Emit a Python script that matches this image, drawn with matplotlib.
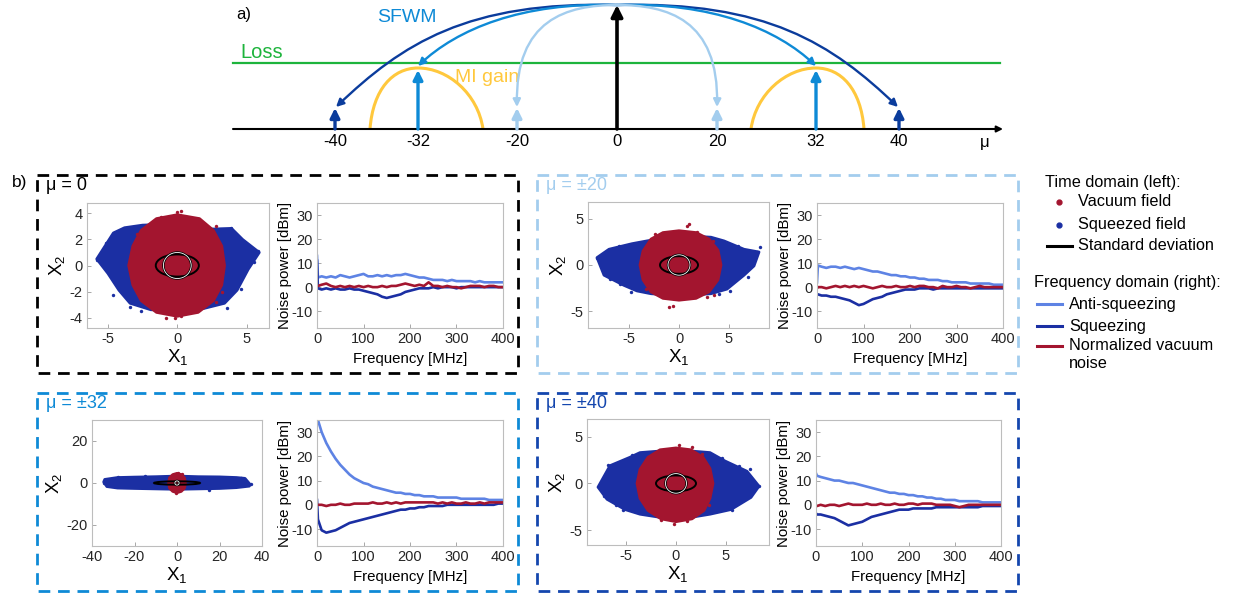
import numpy as np
import matplotlib
matplotlib.use('Agg')
import matplotlib.pyplot as plt
from matplotlib.patches import Ellipse, Polygon, FancyArrowPatch, Rectangle, PathPatch
from matplotlib.path import Path

plt.rcParams['font.family'] = ['Liberation Sans', 'DejaVu Sans']
plt.rcParams['mathtext.fontset'] = 'custom'
plt.rcParams['mathtext.rm'] = 'Liberation Sans'
plt.rcParams['axes.unicode_minus'] = False

# colours
C_VAC = '#A3152F'
C_SQ = '#1B2FA3'
C_ANTI = '#5E83E4'
C_M20 = '#A3CDEE'
C_M32 = '#0E8AD6'
C_M40 = '#0B3C9C'
C_BOX40 = '#1446AE'
C_LOSS = '#1DB43C'
C_MI = '#FFC83D'

# ---------------- a) mode diagram (schematic, not to scale) ----------------
mode_labels = ['-40', '-32', '-20', '0', '20', '32', '40']
mode_pos = [-282, -199, -100, 0, 100, 199, 282]     # offset from pump, px
mode_height = [21, 59, 21, 124, 21, 59, 21]
mode_colors = [C_M40, C_M32, C_M20, 'black', C_M20, C_M32, C_M40]

# MI gain dome around the -32 mode (two cubic segments, mirrored for +32)
mi_ctrl = [(-48, 0), (-45, 40), (-25, 61), (0, 61), (30, 61), (60, 35), (65, 0)]

# SFWM curves: cubic bezier control points (x offset, height)
sfwm_40 = [(0, 124), (-150, 128), (-215, 85), (-281, 22)]
sfwm_32 = [(0, 124), (-95, 127), (-160, 100), (-199, 63)]
sfwm_20 = [(0, 124), (-50, 124), (-102, 110), (-100, 22)]

loss_h = 66

# ---------------- b) time-domain clouds ----------------
# outlines of the point clouds (x, y)
blue0_x = [-5.8, -5.2, -4.6, -3.8, -2.5, 0, 2.5, 3.9, 4.7, 5.9, 5.1, 4.3, 3.4, 1.9, 0, -1.9, -3.4, -4.2, -5.0]
blue0_y = [0.5, 1.5, 2.5, 2.9, 3.1, 3.2, 2.8, 2.85, 2.0, 1.0, -0.3, -1.9, -2.9, -3.3, -3.4, -3.4, -2.9, -1.9, -0.6]
red0_x = [3.4, 3.2, 2.6, 1.6, 0, -1.5, -2.6, -3.2, -3.5, -3.2, -2.6, -1.5, 0, 1.5, 2.6, 3.2]
red0_y = [0, 1.5, 2.7, 3.6, 3.9, 3.6, 2.7, 1.5, 0, -1.5, -2.7, -3.6, -3.9, -3.6, -2.7, -1.5]

blue20_x = [-8.2, -7.0, -4.7, -3.2, 0, 3.2, 4.5, 6.5, 8.0, 7.5, 6.5, 4.8, 3.2, 0, -2.8, -4.2, -5.5, -7.5]
blue20_y = [0.8, 1.7, 2.3, 2.6, 3.2, 3.0, 2.6, 1.7, 1.4, -0.1, -1.1, -2.6, -3.1, -3.3, -3.1, -2.8, -2.2, -1.1]
red20_x = [4.2, 3.9, 3.0, 1.7, 0, -1.6, -2.8, -3.6, -3.9, -3.6, -2.8, -1.6, 0, 1.7, 3.0, 3.9]
red20_y = [0, 1.6, 2.8, 3.5, 3.7, 3.5, 2.8, 1.5, 0, -1.6, -2.9, -3.6, -3.8, -3.6, -2.9, -1.6]

blue32_x = [-34.5, -34, -28, -20, -10, 0, 10, 20, 28, 32, 34.5, 34, 28, 20, 10, 0, -10, -20, -28, -33]
blue32_y = [0.5, 1.7, 2.6, 2.8, 3.0, 3.3, 3.0, 2.9, 2.6, 2.2, -0.8, -1.5, -2.2, -2.6, -2.8, -3.0, -2.8, -2.6, -2.4, -1.7]
red32_x = [4, 3.5, 2, 0, -2, -3.5, -4, -3.5, -2, 0, 2, 3.5]
red32_y = [0, 2.5, 4, 4.6, 4, 2.5, 0, -2.5, -4, -4.6, -4, -2.5]

blue40_x = [-7.8, -6.6, -4.6, -3.6, 0, 3.4, 4.9, 7.1, 8.3, 7.5, 5.5, 3.4, 0, -3.6, -5.1, -6.9]
blue40_y = [-0.4, 1.9, 2.8, 3.3, 3.6, 3.3, 2.4, 1.3, -0.3, -1.5, -2.8, -3.3, -3.9, -3.3, -2.8, -1.7]
red40_x = [3.7, 3.4, 2.7, 1.5, 0, -1.6, -2.8, -3.6, -3.9, -3.6, -2.8, -1.5, 0, 1.6, 2.8, 3.4]
red40_y = [0, 1.6, 2.8, 3.6, 3.8, 3.6, 2.8, 1.5, 0, -1.6, -2.9, -3.8, -4.1, -3.8, -2.9, -1.6]

# stray points outside the dense clouds
blue0_out = [(-5.8, 0.4), (-5.5, 0.45), (5.8, 1.1), (5.5, 0.3), (4.9, 1.6), (-4.6, -2.3), (3.6, -3.3),
             (-3.4, -3.2), (4.6, -1.8), (-4.5, 2.5), (3.9, 2.9), (-5.1, 1.7), (4.3, 2.3), (-2.6, -3.5)]
red0_out = [(0, 4.1), (0.3, 4.2), (-0.2, -4.0), (0.3, -3.9), (2.8, 3.0), (1.5, 3.6), (-1.5, 3.5),
            (2.8, -2.8), (-1.2, 3.7), (-2.9, 2.4), (3.2, -2.0), (-0.8, -4.0)]
blue20_out = [(-8.2, 0.8), (-7.6, 0.4), (8.1, 1.9), (7.8, 1.4), (-6.9, -1.5), (5.1, -2.8), (-5.9, -2.1),
              (6.9, -1.3), (-4.8, -2.9), (-6.0, 2.1), (5.9, 2.1), (4.0, -3.1)]
red20_out = [(1.0, 4.4), (0.8, 4.2), (-1.0, -4.5), (-0.6, -4.4), (2.8, -3.5), (3.5, -3.2), (-2.4, 3.4),
             (1.8, 3.6), (-3.3, -2.6), (3.4, 2.6)]
blue32_out = [(-34.5, 0.0), (34.8, -0.5), (-28, 2.9), (30, 2.6), (-15, 3.4), (15, -3.2)]
red32_out = [(0.5, 4.8), (-0.5, -4.9), (2.5, 4.2)]
blue40_out = [(-7.6, -0.4), (8.3, -0.3), (7.3, -1.3), (-6.8, 2.0), (-5.3, -2.9), (7.4, 1.5), (5.6, -2.9),
              (-7.2, -1.4), (-4.4, 3.0), (4.6, 2.7), (6.3, 1.9), (-6.0, -2.3)]
red40_out = [(1.6, 3.9), (0.3, 4.1), (-0.2, -4.4), (1.1, -4.0), (-1.5, -3.9), (2.6, 3.1), (-2.6, -3.0),
             (-3.0, 2.5), (3.3, -2.3)]

# standard deviation ellipse (a, b) and vacuum circle radius
std_sq = [(1.55, 0.85), (1.9, 0.95), (10.8, 0.8), (2.0, 0.85)]
std_vac = [1.0, 1.1, 1.0, 1.05]

# ---------------- b) frequency-domain spectra ----------------
freq = [0, 2] + list(range(10, 401, 10))

anti0 = [13, 4, 4.5, 4, 4.5, 4, 5, 4.5, 4, 4.5, 5, 5.5, 4.5, 4.5, 5, 4.5, 5, 4.5, 5, 5, 5.5, 5, 4.5, 4,
         4, 3.5, 3, 3, 3, 2.5, 3, 2.5, 2.5, 2.5, 2.5, 2, 2.5, 2, 2, 2, 2, 2]
sq0 = [11, -0.5, -1, -0.5, -1, -0.5, -1, -1, -0.5, -1, -1, -1.5, -2, -2.5, -3, -4, -4.5, -4, -3.5, -3, -2,
       -1.5, -1, -0.5, -0.5, -0.5, 0, -0.5, 0, 0, 0, -0.5, 0, 0, 0, 0, 0, 0, 0, 0, 0, 0]
vac0 = [0.5, 0.5, 1, 1.5, 0.5, 0, 0.5, 0, 0.5, 0, 0.5, 0, 0.5, 0, 0, 0.5, 0, 0.5, 0.5, 1, 1.5, 1, 0.5, 1,
        0.5, 2, 0.5, 0.5, 0, 0.5, 0, 0, -0.5, 0, 0.5, 0.5, 0.5, 0, 0.5, 0.5, 0, 0]

anti20 = [2, 9, 8.5, 8, 8.5, 8.5, 8, 8.5, 8, 7.5, 8, 7.5, 7, 6.5, 6.5, 6, 5.5, 5, 5, 4.5, 4.5, 4, 4, 3.5,
          3.5, 3, 3, 3, 2.5, 2.5, 2, 2, 2, 2, 1.5, 1.5, 1.5, 1.5, 1.5, 1, 1, 1]
sq20 = [-3, -3, -3.5, -3.5, -4, -4, -4.5, -5, -5.5, -6.5, -7.5, -7, -6, -5, -4.5, -4, -3, -2.5, -2, -1.5,
        -1, -1, -1, -0.5, -0.5, -0.5, -1, -0.5, -0.5, -0.5, -0.5, -0.5, -0.5, -0.5, -0.5, -0.5, -0.5,
        -0.5, -0.5, -0.5, -0.5, -0.5]
vac20 = [-0.5, 0, 0, -0.5, 0, 0.5, 0, 0.5, 0, 0.5, 0, 0.5, 0, -0.5, 0, 0.5, 0, 0, 0.5, 0, 0, 0.5, 0, 0.5,
         0.5, 0, 0, -0.5, 0.5, 0, 0, 0.5, 0, 0, -0.5, 0, 0.5, 0, 0, 0, 0, 0]

anti32 = [38, 35, 30, 25.5, 22, 19, 16.5, 14.5, 12.5, 11, 10, 9, 8.5, 7.5, 7, 6.5, 6, 5.5, 5, 5, 4.5, 4.5,
          4, 4, 3.5, 3.5, 3.5, 3, 3, 3, 3, 3, 2.5, 2.5, 2.5, 2.5, 2.5, 2.5, 2, 2, 2, 2]
sq32 = [2, -6, -10.5, -11.5, -11, -10.5, -9.5, -8.5, -7.5, -7, -6.5, -6, -5.5, -5, -4.5, -4, -3.5, -3,
        -2.5, -2, -2, -1.5, -1.5, -1, -1, -0.5, -0.5, -0.5, -0.5, 0, 0, 0, 0, 0, 0, 0, 0, 0, 0, 0, 0.5, 0.5]
vac32 = [0, 0, 0, -0.5, 0, 0, 0.5, 0, 0, 0.5, 0.5, 0.5, 0.5, 1, 0.5, 0.5, 1, 0.5, 1, 0.5, 1, 1, 1, 1,
         1, 1, 1, 0.5, 1, 0.5, 1, 0.5, 0.5, 1, 0.5, 0.5, 1, 0.5, 1, 1, 1, 1]

anti40 = [13, 12, 11.5, 11, 10.5, 10, 10, 9.5, 9, 9, 8.5, 8, 7.5, 7, 6.5, 6, 5.5, 5, 5, 4.5, 4.5, 4, 4,
          3.5, 3.5, 3, 3, 2.5, 2.5, 2, 2, 2, 1.5, 1.5, 1.5, 1.5, 1.5, 1, 1, 1, 1, 1]
sq40 = [-3.5, -4, -4, -4.5, -5, -5.5, -6.5, -7.5, -8.5, -8, -7.5, -7, -6, -5, -4.5, -4, -3.5, -3, -2.5,
        -2, -2, -2, -1.5, -1.5, -1.5, -1.5, -1.5, -1, -1, -1, -1, -1, -1, -1, -1, -1, -1, -0.5, -0.5,
        -0.5, -0.5, -0.5]
vac40 = [-0.5, -0.5, 0, -0.5, 0, 0, -0.5, 0, 0.5, 0, 0, 0, 0.5, 0, 0, 0.5, 0, 0, 0.5, 0, 0, 0.5, 0.5, 0,
         0.5, 0.5, 0.5, 0, 0, 0, 0, -0.5, -1, -0.5, 0, 0, 0, 0, 0, 0, 0, 0]

W, H = 1236, 596
fig = plt.figure(figsize=(W / 100, H / 100), dpi=100)

# overlay axes in pixel coordinates for diagram, boxes and legend
ov = fig.add_axes([0, 0, 1, 1])
ov.set_xlim(0, W)
ov.set_ylim(H, 0)
ov.axis('off')

X0, Y0 = 617, 129


def px(dx, h):
    return (X0 + dx, Y0 - h)


# frequency axis
ov.annotate('', xy=(1003, Y0), xytext=(233, Y0),
            arrowprops=dict(arrowstyle='-|>', lw=1.5, color='black', mutation_scale=9,
                            shrinkA=0, shrinkB=0))
ov.text(985, 143, 'μ', fontsize=12, ha='center', va='center')
ov.text(236, 15, 'a)', fontsize=12, ha='left', va='center')

# loss line
ov.plot([233, 1000], [Y0 - loss_h] * 2, color=C_LOSS, lw=1.6)
ov.text(240, 52, 'Loss', fontsize=14.5, color=C_LOSS, ha='left', va='center')

# MI gain domes
codes = [Path.MOVETO] + [Path.CURVE4] * 6
for cx, sgn in [(mode_pos[1], 1), (mode_pos[5], -1)]:
    verts = [px(cx + sgn * d, h) for d, h in mi_ctrl]
    ov.add_patch(PathPatch(Path(verts, codes), fill=False, ec=C_MI, lw=2.2))
ov.text(455, 77, 'MI gain', fontsize=14, color=C_MI, ha='left', va='center')

# mode arrows
for lab, xp, hh, col in zip(mode_labels, mode_pos, mode_height, mode_colors):
    lw = 2.6 if col == 'black' else 2.4
    ms = 17 if col == 'black' else 14
    ov.annotate('', xy=px(xp, hh), xytext=px(xp, 0),
                arrowprops=dict(arrowstyle='-|>', lw=lw, color=col, mutation_scale=ms,
                                shrinkA=0, shrinkB=0))
    ov.text(X0 + xp, 142, lab, fontsize=12, ha='center', va='center')

# SFWM curves
for pts, col in [(sfwm_40, C_M40), (sfwm_32, C_M32), (sfwm_20, C_M20)]:
    for sgn in (1, -1):
        verts = [px(sgn * x, h) for x, h in pts]
        path = Path(verts, [Path.MOVETO, Path.CURVE4, Path.CURVE4, Path.CURVE4])
        ov.add_patch(FancyArrowPatch(path=path, arrowstyle='-|>', mutation_scale=11,
                                     lw=1.7, color=col, zorder=3))
ov.text(377, 17, 'SFWM', fontsize=14, color=C_M32, ha='left', va='center')

# dashed group boxes
boxes = [((37, 175), 'black', 'μ = 0'),
         ((537, 175), C_M20, 'μ = ±20'),
         ((37, 393), C_M32, 'μ = ±32'),
         ((537, 393), C_BOX40, 'μ = ±40')]
for (bx, by), col, lab in boxes:
    ov.add_patch(Rectangle((bx, by), 481, 198, fill=False, ec=col, lw=2.0,
                           ls=(0, (4.2, 2.8))))
    ov.text(bx + 9, by + 11, lab, fontsize=13, color=col, ha='left', va='center')
ov.text(12, 183, 'b)', fontsize=12.5, ha='left', va='center')

# legend
ov.text(1045, 182, 'Time domain (left):', fontsize=11.7, ha='left', va='center')
ov.plot([1059], [202], 'o', ms=3.5, color=C_VAC)
ov.text(1078, 202, 'Vacuum field', fontsize=11.7, ha='left', va='center')
ov.plot([1059], [225], 'o', ms=3.5, color=C_SQ)
ov.text(1078, 225, 'Squeezed field', fontsize=11.7, ha='left', va='center')
ov.plot([1047, 1072], [246, 246], color='black', lw=2.2)
ov.text(1078, 246, 'Standard deviation', fontsize=11.7, ha='left', va='center')
ov.text(1034, 283, 'Frequency domain (right):', fontsize=11.7, ha='left', va='center')
for yy, col, lab in [(304, C_ANTI, 'Anti-squeezing'), (326, C_SQ, 'Squeezing'),
                     (346, C_VAC, 'Normalized vacuum')]:
    ov.plot([1037, 1062], [yy, yy], color=col, lw=2.2)
    ov.text(1069, yy, lab, fontsize=11.7, ha='left', va='center')
ov.text(1069, 364, 'noise', fontsize=11.7, ha='left', va='center')


def rect(l, t, r, b):
    return [l / W, 1 - b / H, (r - l) / W, (b - t) / H]


def style(ax):
    for s in ax.spines.values():
        s.set_color('#BDBDBD')
        s.set_linewidth(0.8)
    ax.tick_params(direction='in', length=3, width=0.6, color='#9A9A9A',
                   labelcolor='#262626', labelsize=10.5, pad=3)


def cloud_axes(r, bx, by, rx, ry, bout, rout, k, xlim, ylim, xt, yt):
    ax = fig.add_axes(rect(*r))
    ax.add_patch(Polygon(list(zip(bx, by)), closed=True, fc=C_SQ, ec=C_SQ, lw=2.0, joinstyle='round'))
    ax.scatter([p[0] for p in bout], [p[1] for p in bout], s=6, color=C_SQ, lw=0)
    ax.add_patch(Polygon(list(zip(rx, ry)), closed=True, fc=C_VAC, ec=C_VAC, lw=2.0, joinstyle='round'))
    ax.scatter([p[0] for p in rout], [p[1] for p in rout], s=6, color=C_VAC, lw=0)
    a, b = std_sq[k]
    ax.add_patch(Ellipse((0, 0), 2 * a, 2 * b, fill=False, ec='black', lw=1.4))
    rv = std_vac[k]
    ax.add_patch(Ellipse((0, 0), 2 * rv, 2 * rv, fill=False, ec='black', lw=1.7))
    ax.add_patch(Ellipse((0, 0), 2 * rv, 2 * rv, fill=False, ec='white', lw=0.6))
    ax.set_xlim(*xlim)
    ax.set_ylim(*ylim)
    ax.set_xticks(xt)
    ax.set_yticks(yt)
    ax.set_xlabel(r'$\mathrm{X}_1$', fontsize=13.5, labelpad=1)
    ax.set_ylabel(r'$\mathrm{X}_2$', fontsize=13.5, labelpad=1)
    style(ax)
    return ax


def spec_axes(r, anti, sq, vac):
    ax = fig.add_axes(rect(*r))
    ax.plot(freq, anti, color=C_ANTI, lw=1.9)
    ax.plot(freq, sq, color=C_SQ, lw=1.9)
    ax.plot(freq, vac, color=C_VAC, lw=1.9)
    ax.set_xlim(0, 400)
    ax.set_ylim(-17, 35)
    ax.set_xticks([0, 100, 200, 300, 400])
    ax.set_yticks([-10, 0, 10, 20, 30])
    ax.set_xlabel('Frequency [MHz]', fontsize=10.8)
    ax.set_ylabel('Noise power [dBm]', fontsize=10.8, labelpad=0)
    style(ax)
    return ax


cloud_axes((87, 203, 269, 328), blue0_x, blue0_y, red0_x, red0_y, blue0_out, red0_out, 0,
           (-6.5, 6.6), (-4.8, 4.8), [-5, 0, 5], [-4, -2, 0, 2, 4])
spec_axes((317, 203, 503, 328), anti0, sq0, vac0)

cloud_axes((588, 202, 769, 328), blue20_x, blue20_y, red20_x, red20_y, blue20_out, red20_out, 1,
           (-9.1, 9.0), (-6.8, 6.8), [-5, 0, 5], [-5, 0, 5])
spec_axes((817, 203, 1003, 328), anti20, sq20, vac20)

cloud_axes((92, 420, 262, 546), blue32_x, blue32_y, red32_x, red32_y, blue32_out, red32_out, 2,
           (-40, 40), (-30, 30), [-40, -20, 0, 20, 40], [-20, 0, 20])
spec_axes((317, 420, 503, 546), anti32, sq32, vac32)

cloud_axes((587, 419, 769, 545), blue40_x, blue40_y, red40_x, red40_y, blue40_out, red40_out, 3,
           (-8.9, 9.3), (-6.6, 6.9), [-5, 0, 5], [-5, 0, 5])
spec_axes((816, 420, 1001, 546), anti40, sq40, vac40)

fig.savefig('out.png', dpi=100)
